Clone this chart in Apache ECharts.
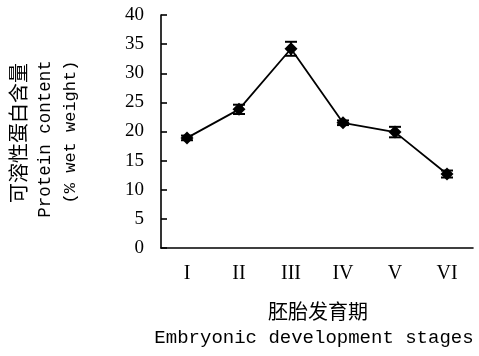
<!DOCTYPE html>
<html><head><meta charset="utf-8">
<script src="https://cdn.jsdelivr.net/npm/echarts@6/dist/echarts.min.js"></script>
<style>html,body{margin:0;padding:0;background:#fff}#c{width:479px;height:356px}</style>
</head><body><div id="c"></div>
<script>
var categories = ['I', 'II', 'III', 'IV', 'V', 'VI'];
var values = [18.9, 23.8, 34.2, 21.5, 19.9, 12.7];
var errors = [0.4, 0.8, 1.2, 0.4, 0.9, 0.6];
var yTicks = [0, 5, 10, 15, 20, 25, 30, 35, 40];

var chart = echarts.init(document.getElementById('c'));
var errData = values.map(function (v, i) { return [i, v - errors[i], v + errors[i]]; });
chart.setOption({
  animation: false,
  grid: { left: 161, right: 6, top: 15, bottom: 108 },
  xAxis: {
    type: 'category', data: categories, boundaryGap: true,
    axisLine: { lineStyle: { color: '#000', width: 1.6 } },
    axisTick: { inside: true, length: 10, lineStyle: { color: '#000', width: 1.6 } },
    axisLabel: { color: '#000', fontFamily: 'Liberation Serif', fontSize: 20, margin: 16 },
    splitLine: { show: false }
  },
  yAxis: {
    type: 'value', min: 0, max: 40, interval: 5,
    axisLine: { show: true, lineStyle: { color: '#000', width: 1.6 } },
    axisTick: { show: true, inside: true, length: 6, lineStyle: { color: '#000', width: 1.6 } },
    axisLabel: { color: '#000', fontFamily: 'Liberation Serif', fontSize: 19, margin: 17,
      formatter: function (v) { return yTicks.indexOf(v) >= 0 ? String(v) : ''; } },
    splitLine: { show: false }
  },
  graphic: [
    { type: 'text', x: 18, y: 133, rotation: Math.PI / 2,
      style: { text: '可溶性蛋白含量', font: '20px "Noto Sans CJK SC"', fill: '#000', align: 'center', verticalAlign: 'middle' } },
    { type: 'text', x: 45, y: 139, rotation: Math.PI / 2,
      style: { text: 'Protein content', font: '17.5px "Liberation Mono"', fill: '#000', align: 'center', verticalAlign: 'middle' } },
    { type: 'text', x: 70, y: 132, rotation: Math.PI / 2,
      style: { text: '(% wet weight)', font: '17px "Liberation Mono"', fill: '#000', align: 'center', verticalAlign: 'middle' } },
    { type: 'text', x: 318, y: 311,
      style: { text: '胚胎发育期', font: '20px "Noto Sans CJK SC"', fill: '#000', align: 'center', verticalAlign: 'middle' } },
    { type: 'text', x: 314, y: 338,
      style: { text: 'Embryonic development stages', font: '19px "Liberation Mono"', fill: '#000', align: 'center', verticalAlign: 'middle' } }
  ],
  series: [
    {
      type: 'line', data: values, symbol: 'diamond', symbolSize: 13,
      lineStyle: { color: '#000', width: 1.8 }, itemStyle: { color: '#000' }, z: 3
    },
    {
      type: 'custom', data: errData, z: 4,
      renderItem: function (params, api) {
        var x = api.value(0);
        var lo = api.coord([x, api.value(1)]);
        var hi = api.coord([x, api.value(2)]);
        var w = 6;
        var st = { stroke: '#000', lineWidth: 2 };
        return { type: 'group', children: [
          { type: 'line', shape: { x1: lo[0], y1: lo[1], x2: hi[0], y2: hi[1] }, style: st },
          { type: 'line', shape: { x1: lo[0] - w, y1: lo[1], x2: lo[0] + w, y2: lo[1] }, style: st },
          { type: 'line', shape: { x1: hi[0] - w, y1: hi[1], x2: hi[0] + w, y2: hi[1] }, style: st }
        ] };
      }
    }
  ]
});
</script></body></html>
